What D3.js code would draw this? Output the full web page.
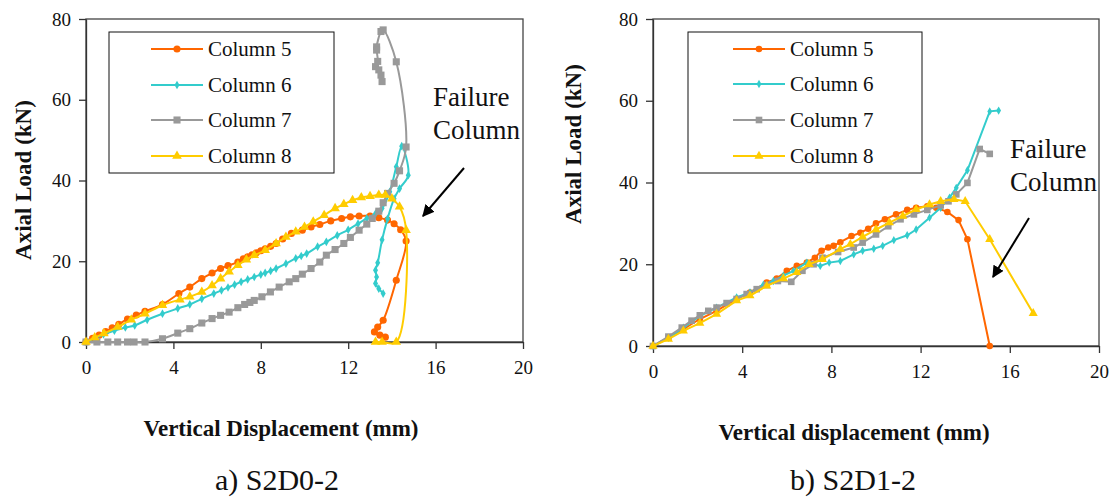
<!DOCTYPE html>
<html>
<head>
<meta charset="utf-8">
<script src="https://cdn.jsdelivr.net/npm/d3@7"></script>
<style>
  body { margin: 0; background: #fff; }
  svg text { font-family: "Liberation Serif", "DejaVu Serif", serif; fill: #111; }
  .axis text { font-family: "Liberation Serif", "DejaVu Serif", serif; font-size: 19px; }
  .axis path, .axis line { stroke: #333; stroke-width: 1.3; }
  .title { font-weight: bold; font-size: 23px; }
</style>
</head>
<body>
<div id="chart"></div>
<script>
/* Shared axis values */
var xTicks = [0, 4, 8, 12, 16, 20];
var yTicks = [0, 20, 40, 60, 80];
var seriesNames = ["Column 5", "Column 6", "Column 7", "Column 8"];
var seriesColors = ["#ff6600", "#33cccc", "#999999", "#ffcc00"];
var seriesSymbols = [d3.symbolCircle, d3.symbolDiamond, d3.symbolSquare, d3.symbolTriangle];

/* a) S2D0-2  [displacement mm, load kN] */
var s2d0_col5 = [[0,0],[0.3,0.9],[0.6,1.7],[0.9,2.6],[1.2,3.5],[1.5,4.4],[1.9,5.7],[2.3,6.7],[2.7,7.6],[3.5,9.3],[4.25,12],[4.75,13.6],[5.3,15.7],[5.77,17.1],[6.16,18.2],[6.5,18.9],[6.95,19.8],[7.2,20.6],[7.4,21.1],[7.6,21.6],[7.8,22.1],[8.0,22.6],[8.2,23.1],[8.45,23.7],[8.7,24.4],[9.0,25.5],[9.4,26.9],[9.9,27.7],[10.3,28.5],[10.7,29.1],[11.2,30],[11.7,30.6],[12.1,31],[12.5,31.2],[13.0,31.2],[13.4,30.8],[13.8,30.2],[14.1,29.3],[14.4,27.8],[14.65,25],[14.2,15.3],[13.6,5.4],[13.35,3.7],[13.2,2.5],[13.45,1.7],[13.7,1.2]];
var s2d0_col6 = [[0,0],[0.4,0.9],[0.8,1.9],[1.3,2.8],[1.8,3.6],[2.23,4.1],[2.8,5.5],[3.5,7.0],[4.2,8.3],[4.75,9.3],[5.3,10.7],[5.85,12],[6.2,12.8],[6.5,13.5],[6.8,14.2],[7.1,14.9],[7.4,15.5],[7.7,16.1],[8.0,16.7],[8.2,17.1],[8.45,17.6],[8.7,18.2],[9.15,19.4],[9.6,20.7],[9.85,21.3],[10.1,21.9],[10.6,23.6],[11.0,24.8],[11.5,26.4],[12.0,27.8],[12.45,29.3],[12.85,30.6],[13.25,31.8],[13.55,33.1],[13.9,37.2],[14.2,43.4],[14.45,48.5],[14.75,41.3],[14.35,38],[14.1,35.5],[13.8,30.5],[13.55,25.3],[13.35,19.6],[13.25,17.8],[13.3,16.1],[13.25,14.5],[13.4,13.2],[13.6,12]];
var s2d0_col7 = [[0,0],[0.5,0],[1.0,0],[1.45,0],[1.9,0],[2.2,0],[2.7,0],[3.5,0.8],[4.2,2.2],[4.75,3.3],[5.3,4.7],[5.77,5.8],[6.16,6.6],[6.55,7.4],[6.95,8.5],[7.26,9.3],[7.5,9.8],[7.7,10.3],[8.05,11.2],[8.44,12.4],[8.84,13.6],[9.3,14.9],[9.6,15.7],[9.9,16.8],[10.3,18.2],[10.7,19.8],[11.0,21.5],[11.4,22.9],[11.8,24.4],[12.1,25.9],[12.5,27.7],[12.85,29.2],[13.1,30.6],[13.4,32.4],[13.6,34.5],[13.8,36.8],[14.1,39.3],[14.35,42.4],[14.65,48.3],[14.2,69.4],[13.6,77.3],[13.5,76.9],[13.3,73.1],[13.3,72.3],[13.35,69.5],[13.25,68.2],[13.4,67.4],[13.5,66.1],[13.55,64.5]];
var s2d0_col8 = [[0,0],[0.4,1.1],[0.82,2.1],[1.45,3.7],[2.07,5.5],[2.7,7.0],[3.5,9.1],[4.3,10.5],[4.75,11.2],[5.3,12.4],[5.77,14.0],[6.16,15.7],[6.55,17.4],[6.95,19.0],[7.34,20.4],[7.7,21.5],[8.2,22.7],[8.7,24.4],[9.15,26.0],[9.6,27.3],[10.0,28.5],[10.4,29.8],[10.9,31.4],[11.4,33.1],[11.8,34.1],[12.2,35.1],[12.6,35.8],[13.0,36.1],[13.4,36.4],[13.7,36.4],[14.0,35.5],[14.35,33.5],[14.65,27.7],[14.2,0],[13.55,0],[13.25,0]];

/* b) S2D1-2 */
var s2d1_col5 = [[0,0],[0.69,2.1],[1.36,4.1],[2.1,6.6],[2.85,8.6],[3.75,11.5],[4.35,13.1],[5.1,15.5],[5.55,16.5],[6.0,18.4],[6.45,19.6],[6.9,20.4],[7.26,21.6],[7.56,23.3],[7.86,24.1],[8.1,24.5],[8.4,25.4],[8.9,26.9],[9.3,27.7],[9.65,28.7],[10.0,30],[10.4,31],[10.9,32.2],[11.4,33.3],[11.8,33.8],[12.3,34.2],[12.7,33.8],[13.2,32.8],[13.7,30.8],[14.1,26.1],[15.1,0]];
var s2d1_col6 = [[0,0],[0.69,2.0],[1.36,4.5],[2.1,7.3],[2.85,9.4],[3.75,11.9],[4.35,13.1],[4.95,15.0],[5.4,15.9],[5.85,17.2],[6.3,18.4],[6.9,20.4],[7.5,19.6],[7.9,20.4],[8.4,20.8],[9.0,22.4],[9.4,23.3],[9.9,23.8],[10.3,24.5],[10.8,25.9],[11.4,27.1],[11.8,28.5],[12.4,31.4],[12.9,33.8],[13.3,36.3],[13.6,38.7],[14.1,43.0],[15.1,57.4],[15.5,57.6]];
var s2d1_col7 = [[0,0],[0.69,2.3],[1.29,4.5],[1.73,6.2],[2.1,7.5],[2.48,8.6],[2.85,9.4],[3.3,10.5],[3.75,11.5],[4.2,12.7],[4.65,13.9],[5.1,14.9],[5.6,15.9],[6.2,15.7],[6.7,18.4],[7.2,20],[7.6,21.6],[8.3,23],[9.0,24.1],[9.4,25.3],[10.0,27.3],[10.55,29.3],[11.1,31],[11.7,32.2],[12.3,33.3],[12.9,34.4],[13.25,35.4],[13.6,37.1],[14.1,39.9],[14.65,48.2],[15.1,47.0]];
var s2d1_col8 = [[0,0],[0.69,1.7],[1.36,3.7],[2.1,5.6],[2.85,7.8],[3.75,11.1],[4.35,12.3],[5.1,14.7],[5.85,16.5],[6.45,18.0],[7.0,20.0],[7.6,21.2],[8.4,23.7],[8.85,24.9],[9.4,26.7],[10.0,28.5],[10.6,30.2],[11.2,31.8],[11.8,33.4],[12.4,34.6],[12.9,35.4],[13.5,35.9],[14.0,35.4],[15.1,26.1],[17.05,8.0]];

var W = 1113, H = 497;

var svg = d3.select("#chart").append("svg")
    .attr("width", W)
    .attr("height", H);

svg.append("defs").append("marker")
    .attr("id", "arrowHead")
    .attr("viewBox", "0 0 10 10")
    .attr("refX", 9).attr("refY", 5)
    .attr("markerWidth", 6).attr("markerHeight", 6)
    .attr("orient", "auto")
  .append("path")
    .attr("d", "M0,0 L10,5 L0,10 z")
    .attr("fill", "#000");

var panels = [
    {
        series: [s2d0_col5, s2d0_col6, s2d0_col7, s2d0_col8],
        left: 86, right: 523, bottom: 342, top: 19,
        curve: d3.curveCatmullRom.alpha(0.5),
        markerSize: [40, 22, 50, 40],
        legend: {x: 109, y: 32, w: 225, h: 141, lx0: 151, lx1: 203, tx: 208, rows: [49, 85, 120, 156]},
        yTitle: {x: 23, y: 180},
        xTitle: {x: 281, y: 436, text: "Vertical Displacement (mm)"},
        caption: {x: 277, y: 490, text: "a) S2D0-2"},
        failure: {x: 433, y: 106},
        arrow: [[464, 168], [423, 216]]
    },
    {
        series: [s2d1_col5, s2d1_col6, s2d1_col7, s2d1_col8],
        left: 653, right: 1099, bottom: 346, top: 19,
        curve: d3.curveLinear,
        markerSize: [34, 20, 44, 36],
        legend: {x: 688, y: 32, w: 234, h: 141, lx0: 733, lx1: 785, tx: 790, rows: [49, 84, 120, 156]},
        yTitle: {x: 573, y: 144},
        xTitle: {x: 854, y: 440, text: "Vertical displacement (mm)"},
        caption: {x: 853, y: 490, text: "b) S2D1-2"},
        failure: {x: 1010, y: 158},
        arrow: [[1029, 218], [993, 277]]
    }
];

panels.forEach(drawPanel);

function drawPanel(p){
    var x = d3.scaleLinear().domain([0, 20]).range([p.left, p.right]);
    var y = d3.scaleLinear().domain([0, 80]).range([p.bottom, p.top]);

    var g = svg.append("g");

    /* Plot frame */
    g.append("rect")
        .attr("x", p.left).attr("y", p.top)
        .attr("width", p.right - p.left).attr("height", p.bottom - p.top)
        .attr("fill", "none").attr("stroke", "#444").attr("stroke-width", 1.3);

    /* Axes */
    g.append("g")
        .attr("class", "axis")
        .attr("transform", "translate(0," + p.bottom + ")")
        .call(d3.axisBottom(x).tickValues(xTicks).tickSize(7).tickSizeOuter(0).tickPadding(12))
        .attr("font-family", null);
    g.append("g")
        .attr("class", "axis")
        .attr("transform", "translate(" + p.left + ",0)")
        .call(d3.axisLeft(y).tickValues(yTicks).tickSize(7).tickSizeOuter(0).tickPadding(8))
        .attr("font-family", null);

    /* Lines */
    var line = d3.line()
        .x(function(d){ return x(d[0]); })
        .y(function(d){ return y(d[1]); })
        .curve(p.curve);

    p.series.forEach(function(data, i){
        g.append("path")
            .datum(data)
            .attr("fill", "none")
            .attr("stroke", seriesColors[i])
            .attr("stroke-width", 2)
            .attr("d", line);
        g.selectAll(null)
            .data(data)
            .enter()
            .append("path")
                .attr("transform", function(d){ return "translate(" + x(d[0]) + "," + y(d[1]) + ")"; })
                .attr("d", d3.symbol().type(seriesSymbols[i]).size(p.markerSize[i]))
                .attr("fill", seriesColors[i]);
    });

    /* Legend */
    var lg = p.legend;
    g.append("rect")
        .attr("x", lg.x).attr("y", lg.y).attr("width", lg.w).attr("height", lg.h)
        .attr("fill", "#fff").attr("stroke", "#111").attr("stroke-width", 1);
    seriesNames.forEach(function(name, i){
        var ry = lg.rows[i];
        g.append("line")
            .attr("x1", lg.lx0).attr("x2", lg.lx1).attr("y1", ry).attr("y2", ry)
            .attr("stroke", seriesColors[i]).attr("stroke-width", 2);
        g.append("path")
            .attr("transform", "translate(" + ((lg.lx0 + lg.lx1) / 2) + "," + ry + ")")
            .attr("d", d3.symbol().type(seriesSymbols[i]).size(p.markerSize[i]))
            .attr("fill", seriesColors[i]);
        g.append("text")
            .attr("x", lg.tx).attr("y", ry + 7)
            .attr("font-size", 21)
            .text(name);
    });

    /* Titles */
    g.append("text")
        .attr("class", "title")
        .attr("transform", "translate(" + p.yTitle.x + "," + p.yTitle.y + ") rotate(-90)")
        .attr("text-anchor", "middle")
        .attr("dy", "0.35em")
        .text("Axial Load (kN)");
    g.append("text")
        .attr("class", "title")
        .attr("x", p.xTitle.x).attr("y", p.xTitle.y)
        .attr("text-anchor", "middle")
        .text(p.xTitle.text);
    g.append("text")
        .attr("x", p.caption.x).attr("y", p.caption.y)
        .attr("text-anchor", "middle")
        .attr("font-size", 30)
        .text(p.caption.text);

    /* Failure annotation */
    var ft = g.append("text")
        .attr("x", p.failure.x).attr("y", p.failure.y)
        .attr("font-size", 27);
    ft.append("tspan").attr("x", p.failure.x).text("Failure");
    ft.append("tspan").attr("x", p.failure.x).attr("dy", 33).text("Column");

    g.append("line")
        .attr("x1", p.arrow[0][0]).attr("y1", p.arrow[0][1])
        .attr("x2", p.arrow[1][0]).attr("y2", p.arrow[1][1])
        .attr("stroke", "#000").attr("stroke-width", 2)
        .attr("marker-end", "url(#arrowHead)");
}
</script>
</body>
</html>
